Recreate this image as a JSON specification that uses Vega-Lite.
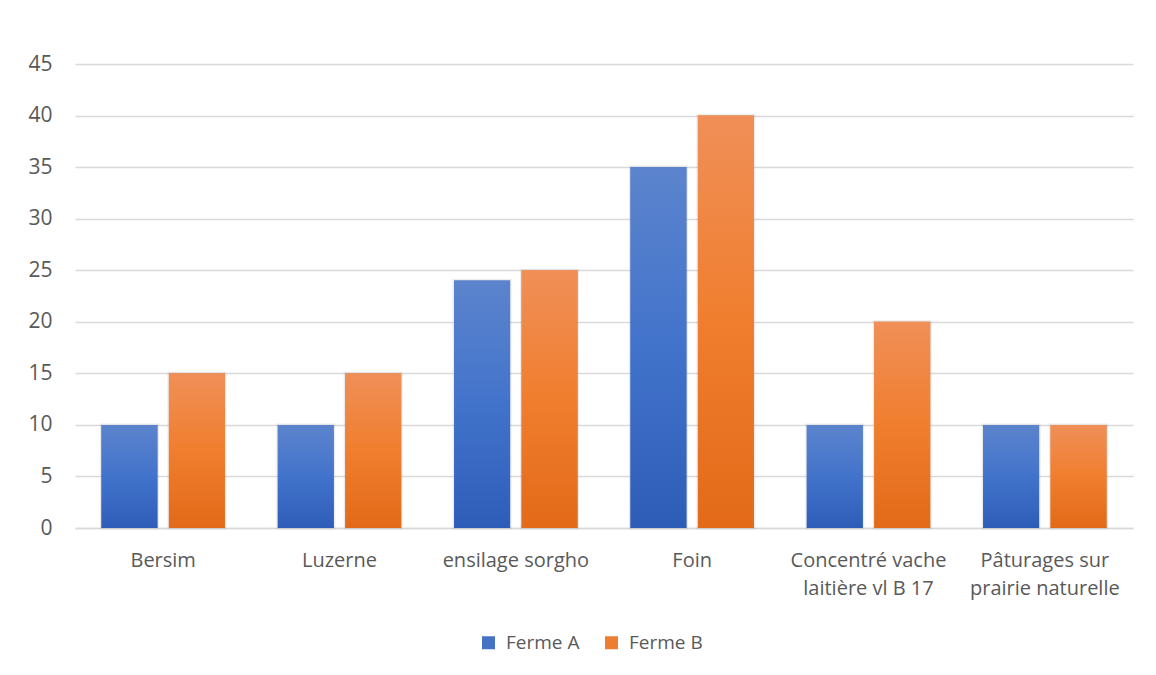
{
  "$schema": "https://vega.github.io/schema/vega-lite/v6.json",
  "width": 1058,
  "height": 464,
  "autosize": {"type": "none"},
  "padding": {"left": 75, "top": 64, "right": 23, "bottom": 147},
  "background": "white",
  "config": {
    "font": "Open Sans",
    "view": {"stroke": null},
    "axis": {"labelFont": "Open Sans", "labelColor": "#595959", "labelFontSize": 20, "titleFont": "Open Sans"},
    "legend": {"labelFont": "Open Sans"}
  },
  "data": {
    "values": [
      {"aliment": "Bersim", "ferme": "Ferme A", "valeur": 10},
      {"aliment": "Bersim", "ferme": "Ferme B", "valeur": 15},
      {"aliment": "Luzerne", "ferme": "Ferme A", "valeur": 10},
      {"aliment": "Luzerne", "ferme": "Ferme B", "valeur": 15},
      {"aliment": "ensilage sorgho", "ferme": "Ferme A", "valeur": 24},
      {"aliment": "ensilage sorgho", "ferme": "Ferme B", "valeur": 25},
      {"aliment": "Foin", "ferme": "Ferme A", "valeur": 35},
      {"aliment": "Foin", "ferme": "Ferme B", "valeur": 40},
      {"aliment": "Concentré vache laitière vl B 17", "ferme": "Ferme A", "valeur": 10},
      {"aliment": "Concentré vache laitière vl B 17", "ferme": "Ferme B", "valeur": 20},
      {"aliment": "Pâturages sur prairie naturelle", "ferme": "Ferme A", "valeur": 10},
      {"aliment": "Pâturages sur prairie naturelle", "ferme": "Ferme B", "valeur": 10}
    ]
  },
  "encoding": {
    "x": {
      "field": "aliment",
      "type": "nominal",
      "sort": null,
      "scale": {"paddingInner": 0.3, "paddingOuter": 0.15},
      "axis": {
        "title": null,
        "labelAngle": 0,
        "labelPadding": 22,
        "labelLineHeight": 28,
        "ticks": false,
        "domainColor": "#D9D9D9",
        "domainWidth": 1.5,
        "labelFontSize": 20,
        "labelExpr": "datum.label == 'Concentré vache laitière vl B 17' ? ['Concentré vache', 'laitière vl B 17'] : datum.label == 'Pâturages sur prairie naturelle' ? ['Pâturages sur', 'prairie naturelle'] : datum.label"
      }
    },
    "xOffset": {
      "field": "ferme",
      "type": "nominal",
      "scale": {"domain": ["Ferme A", "Ferme B"], "paddingInner": 0.17, "paddingOuter": 0}
    },
    "y": {
      "field": "valeur",
      "type": "quantitative",
      "scale": {"domain": [0, 45], "nice": false},
      "axis": {
        "title": null,
        "values": [0, 5, 10, 15, 20, 25, 30, 35, 40, 45],
        "domain": false,
        "ticks": false,
        "labelPadding": 23,
        "labelFontSize": 21,
        "gridColor": "#D9D9D9",
        "gridWidth": 1.5
      }
    }
  },
  "layer": [
    {
      "mark": {"type": "bar", "stroke": "#9a9a9a", "strokeWidth": 3, "strokeOpacity": 0.2},
      "encoding": {
        "color": {
          "field": "ferme",
          "type": "nominal",
          "scale": {"domain": ["Ferme A", "Ferme B"], "range": ["#4472C4", "#ED7D31"]},
          "legend": {
            "title": null,
            "orient": "none",
            "direction": "horizontal",
            "legendX": 404,
            "legendY": 569,
            "symbolType": "square",
            "symbolSize": 169,
            "symbolStrokeWidth": 0,
            "symbolOpacity": 1,
            "labelFontSize": 19,
            "labelColor": "#595959",
            "labelOffset": 8,
            "columnPadding": 22
          }
        }
      }
    },
    {
      "transform": [{"filter": "datum.ferme == 'Ferme A'"}],
      "mark": {
        "type": "bar",
        "color": {
          "gradient": "linear", "x1": 0, "y1": 0, "x2": 0, "y2": 1,
          "stops": [{"offset": 0, "color": "#5C84CD"}, {"offset": 0.5, "color": "#4273CB"}, {"offset": 1, "color": "#2E5DB7"}]
        }
      }
    },
    {
      "transform": [{"filter": "datum.ferme == 'Ferme B'"}],
      "mark": {
        "type": "bar",
        "color": {
          "gradient": "linear", "x1": 0, "y1": 0, "x2": 0, "y2": 1,
          "stops": [{"offset": 0, "color": "#F08F58"}, {"offset": 0.5, "color": "#F07E2E"}, {"offset": 1, "color": "#E26A18"}]
        }
      }
    }
  ]
}
